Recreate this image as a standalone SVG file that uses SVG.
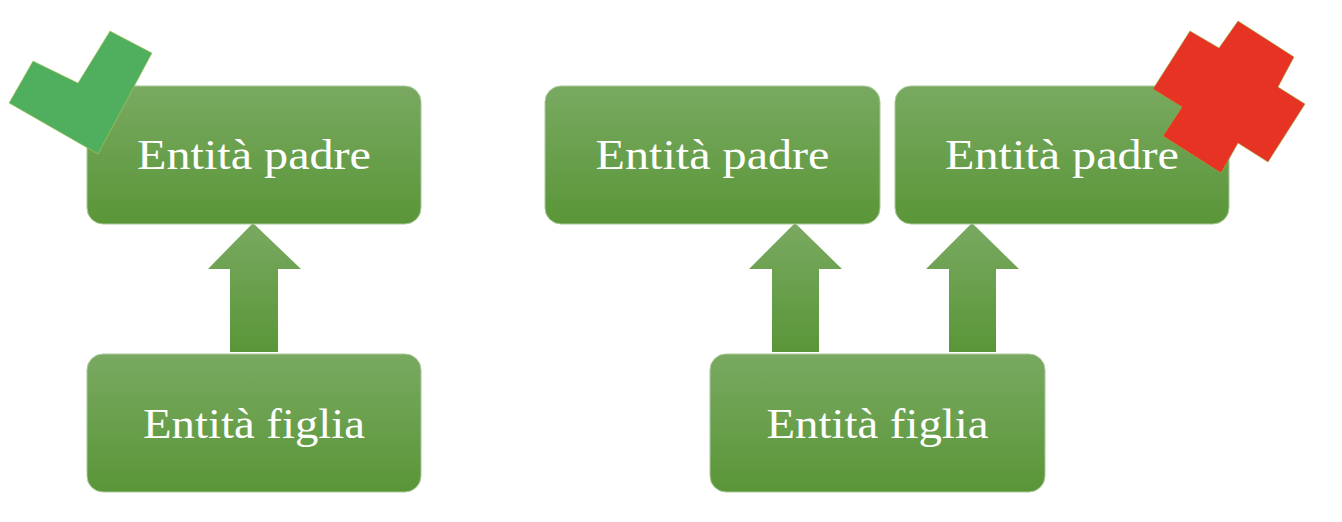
<svg xmlns="http://www.w3.org/2000/svg" width="1342" height="522" viewBox="0 0 1342 522">
<defs>
<linearGradient id="g" x1="0" y1="0" x2="0" y2="1">
<stop offset="0" stop-color="#79a961"/>
<stop offset="1" stop-color="#5a9638"/>
</linearGradient>
<style>
.box{fill:url(#g);stroke:#a9c99a;stroke-width:1}
.arr{fill:url(#g)}
.t{font-family:"Liberation Serif","Times New Roman",serif;font-size:42px;fill:#ffffff;text-anchor:middle}
</style>
</defs>
<rect width="1342" height="522" fill="#ffffff"/>
<g id="connectors">
<polygon class="arr" points="253,223 301,269 278,269 278,352 230,352 230,269 208,269"/>
<polygon class="arr" points="795,223 842,269 819,269 819,352 772,352 772,269 749,269"/>
<polygon class="arr" points="972,223 1019,269 996,269 996,352 949,352 949,269 926,269"/>
</g>
<g id="parent-left">
<rect class="box" x="87" y="86" width="334" height="138" rx="16"/>
<text class="t" x="254" y="169" textLength="234" lengthAdjust="spacingAndGlyphs">Entità padre</text>
</g>
<g id="child-left">
<rect class="box" x="87" y="354" width="334" height="138" rx="16"/>
<text class="t" x="254" y="438" textLength="222" lengthAdjust="spacingAndGlyphs">Entità figlia</text>
</g>
<g id="check">
<polygon points="110,31 152,53 98,154 9,103 33,61 78,83" fill="#4faf5e" stroke="#b5c75a" stroke-width="0.6"/>
</g>
<g id="parent-mid">
<rect class="box" x="545" y="86" width="335" height="138" rx="16"/>
<text class="t" x="712.5" y="169" textLength="234" lengthAdjust="spacingAndGlyphs">Entità padre</text>
</g>
<g id="parent-right">
<rect class="box" x="895" y="86" width="334" height="138" rx="16"/>
<text class="t" x="1062" y="169" textLength="234" lengthAdjust="spacingAndGlyphs">Entità padre</text>
</g>
<g id="child-right">
<rect class="box" x="710" y="354" width="335" height="138" rx="16"/>
<text class="t" x="877.5" y="438" textLength="222" lengthAdjust="spacingAndGlyphs">Entità figlia</text>
</g>
<g id="cross">
<polygon points="1238,21 1294,57 1278,87 1305,104 1268,162 1238,143 1221,173 1163,136 1182,107 1153,89 1190,31 1219,48" fill="#e73323" stroke="#9aaa3a" stroke-width="0.6"/>
</g>
</svg>
